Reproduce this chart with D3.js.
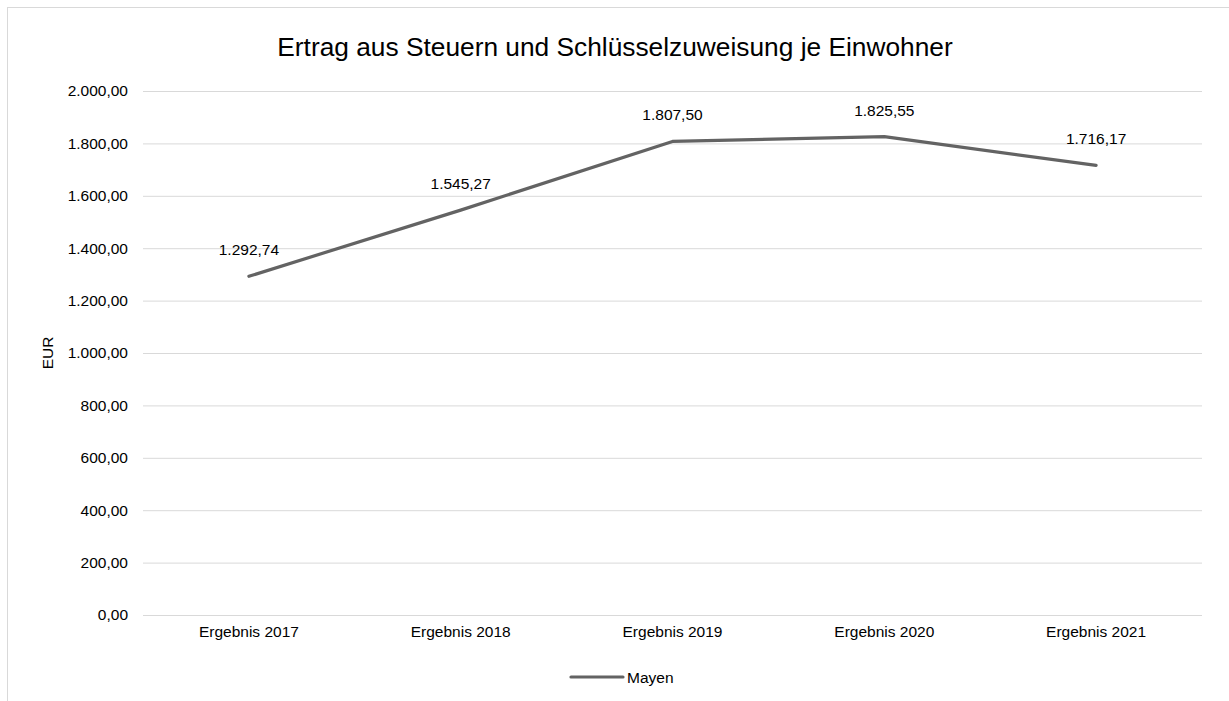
<!DOCTYPE html>
<html><head><meta charset="utf-8">
<script src="https://cdn.jsdelivr.net/npm/d3@7"></script>
<style>body{margin:0;background:#fff;font-family:"Liberation Sans",Arial,sans-serif;}</style>
</head><body>
<svg id="c" width="1229" height="701"></svg>
<script>
const categories = ["Ergebnis 2017","Ergebnis 2018","Ergebnis 2019","Ergebnis 2020","Ergebnis 2021"];
const values = [1292.74, 1545.27, 1807.50, 1825.55, 1716.17];
const seriesName = "Mayen";
const yTicks = [0,200,400,600,800,1000,1200,1400,1600,1800,2000];
const title = "Ertrag aus Steuern und Schlüsselzuweisung je Einwohner";
const yLabel = "EUR";

const fmt = v => {
  const c = Math.round(v * 100);
  const ip = Math.floor(c / 100), fp = c % 100;
  return String(ip).replace(/\B(?=(\d{3})+(?!\d))/g, ".") + "," + String(fp).padStart(2, "0");
};

const svg = d3.select("#c");
const font = "'Liberation Sans', Arial, sans-serif";
const fs = 15.5;
svg.append("rect").attr("x",7.5).attr("y",7.5).attr("width",1240).attr("height",720)
  .attr("fill","#fff").attr("stroke","#d9d9d9").attr("stroke-width",1);

const L=143, R=1202, T=91, B=615;
const x = d3.scaleBand().domain(categories).range([L,R]);
const y = d3.scaleLinear().domain([0,2000]).range([B,T]);

svg.append("text").attr("x",615).attr("y",56).attr("text-anchor","middle")
  .attr("font-family",font).attr("font-size",26.3).attr("fill","#000").text(title);

const gy = svg.append("g").attr("transform",`translate(${L},0)`)
  .call(d3.axisLeft(y).tickValues(yTicks).tickSize(-(R-L)).tickPadding(15).tickFormat(fmt));
gy.select(".domain").remove();
gy.selectAll(".tick line").attr("stroke","#d9d9d9").attr("stroke-width",1);
gy.selectAll(".tick text").attr("font-family",font).attr("font-size",fs).attr("fill","#000");

const gx = svg.append("g").attr("transform",`translate(0,${B})`)
  .call(d3.axisBottom(x).tickSize(0).tickPadding(11));
gx.select(".domain").remove();
gx.selectAll(".tick text").attr("font-family",font).attr("font-size",fs).attr("fill","#000");

svg.append("text").attr("transform",`translate(53,${(T+B)/2}) rotate(-90)`)
  .attr("text-anchor","middle").attr("font-family",font).attr("font-size",fs).text(yLabel);

const line = d3.line().x((d,i)=>x(categories[i])+x.bandwidth()/2).y(d=>y(d));
svg.append("path").datum(values).attr("d",line).attr("fill","none")
  .attr("stroke","#636363").attr("stroke-width",3.2).attr("stroke-linecap","round").attr("stroke-linejoin","round");

svg.selectAll(".lbl").data(values).enter().append("text")
  .attr("x",(d,i)=>x(categories[i])+x.bandwidth()/2).attr("y",d=>y(d)-21)
  .attr("text-anchor","middle").attr("font-family",font).attr("font-size",fs).attr("fill","#000")
  .text(fmt);

const lg = svg.append("g");
lg.append("line").attr("x1",571).attr("x2",623).attr("y1",677).attr("y2",677)
  .attr("stroke","#636363").attr("stroke-width",3.2).attr("stroke-linecap","round");
lg.append("text").attr("x",627).attr("y",682.5).attr("font-family",font).attr("font-size",fs).text(seriesName);
</script>
</body></html>
